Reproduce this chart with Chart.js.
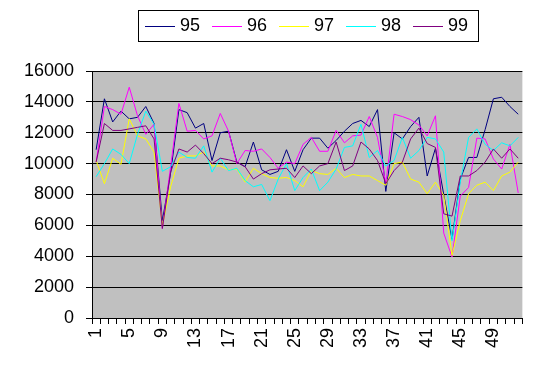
<!DOCTYPE html>
<html>
<head>
<meta charset="utf-8">
<script src="https://cdn.jsdelivr.net/npm/chart.js@4"></script>
<style>
  body { margin: 0; background: #fff; }
  #wrap { width: 544px; height: 376px; }
</style>
</head>
<body>
<div id="wrap"><canvas id="chart" width="544" height="376"></canvas></div>
<script>
// weeks 1..52
const weeks = [1, 2, 3, 4, 5, 6, 7, 8, 9, 10, 11, 12, 13, 14, 15, 16, 17, 18, 19, 20,
    21, 22, 23, 24, 25, 26, 27, 28, 29, 30, 31, 32, 33, 34, 35, 36, 37, 38, 39, 40,
    41, 42, 43, 44, 45, 46, 47, 48, 49, 50, 51, 52];

const seriesNames = ['95', '96', '97', '98', '99'];
const seriesColors = ['#000080', '#ff00ff', '#ffff00', '#00ffff', '#800080'];

const y95 = [10900, 14200, 12700, 13400, 12900, 13000, 13700, 12600, 6300, 9400,
    13500, 13300, 12300, 12600, 10200, 12000, 12100, 10100, 9800, 11400,
    9600, 9300, 9500, 10900, 9500, 10900, 11650, 11650, 11000, 11500,
    12100, 12600, 12800, 12400, 13500, 8200, 12000, 11600, 12400, 13000,
    9200, 11000, 8000, 5100, 9000, 10400, 10400, 12200, 14200, 14300,
    13700, 13200];
const y96 = [10100, 13700, 13500, 13200, 14950, 13100, 11900, 12550, 5800, 9800,
    13900, 12100, 12150, 11600, 11800, 13250, 12100, 10000, 10850, 10800,
    10950, 10400, 9700, 10100, 10000, 11250, 11700, 10800, 10800, 12150,
    11350, 11800, 11850, 13050, 11700, 8700, 13200, 13050, 12850, 12500,
    11800, 13100, 5500, 3950, 7900, 8450, 11650, 11600, 10300, 9650,
    11250, 8100];
const y97 = [10200, 8700, 10350, 9950, 12900, 11800, 11600, 10750, 6000, 8500,
    10350, 10500, 10500, 10750, 9850, 9850, 9600, 9650, 8800, 9700,
    9350, 9100, 9050, 9100, 8900, 8500, 9550, 9350, 9300, 9700,
    9100, 9300, 9200, 9200, 8900, 8600, 10000, 10100, 9000, 8800,
    8050, 8800, 7950, 4050, 6300, 8050, 8600, 8800, 8250, 9200,
    9450, 10100];
const y98 = [9150, 10000, 10950, 10600, 10000, 11900, 13400, 12550, 9500, 9800,
    10750, 10400, 10350, 11150, 9450, 10350, 9550, 9700, 8900, 8500,
    8650, 7600, 9000, 10000, 8250, 9100, 9650, 8250, 8800, 9650,
    11050, 11150, 12550, 10400, 10850, 9850, 10200, 11700, 10350, 10850,
    11700, 11600, 10750, 5000, 8800, 11700, 12250, 11250, 10850, 11350,
    11150, 11700];
const y99 = [10100, 12600, 12150, 12150, 12250, 12350, 12450, 11600, 5800, 9450,
    10950, 10750, 11200, 10650, 10000, 10350, 10250, 10100, 9800, 9000,
    9350, 9600, 9650, 9700, 9100, 9850, 9350, 9850, 10000, 11400,
    9550, 9850, 11400, 10950, 10200, 8700, 9550, 10100, 11600, 12300,
    11300, 11050, 6750, 6600, 9200, 9200, 9550, 10100, 10950, 10350,
    10950, 10350];

const yTicks = [0, 2000, 4000, 6000, 8000, 10000, 12000, 14000, 16000];

const FONT = { family: '"Liberation Sans", Arial, sans-serif', size: 18 };

// gray plot area like old excel
const plotBg = {
    id: 'plotBg',
    beforeDraw(chart) {
        const a = chart.chartArea;
        const ctx = chart.ctx;
        ctx.save();
        ctx.fillStyle = '#c0c0c0';
        ctx.fillRect(a.left, a.top, a.right - a.left, a.bottom - a.top);
        ctx.restore();
    }
};

// boxed legend with line samples
const boxLegend = {
    id: 'boxLegend',
    afterDraw(chart) {
        const ctx = chart.ctx;
        ctx.save();
        ctx.strokeStyle = '#000';
        ctx.lineWidth = 1;
        ctx.strokeRect(138.5, 10.5, 340, 31);
        ctx.font = FONT.size + 'px ' + FONT.family;
        ctx.textBaseline = 'middle';
        ctx.fillStyle = '#000';
        chart.data.datasets.forEach((ds, i) => {
            const x0 = 145 + i * 67;
            ctx.strokeStyle = ds.borderColor;
            ctx.beginPath();
            ctx.moveTo(x0, 26.5);
            ctx.lineTo(x0 + 30, 26.5);
            ctx.stroke();
            ctx.fillText(ds.label, x0 + 35, 26);
        });
        ctx.restore();
    }
};

const allSeries = [y95, y96, y97, y98, y99];

new Chart(document.getElementById('chart'), {
    type: 'line',
    data: {
        labels: weeks,
        datasets: allSeries.map((vals, i) => ({
            label: seriesNames[i],
            data: vals,
            borderColor: seriesColors[i],
            borderWidth: 1,
            pointRadius: 0,
            tension: 0,
            fill: false,
            order: allSeries.length - i
        }))
    },
    options: {
        responsive: false,
        animation: false,
        layout: { padding: { top: 71, right: 18, bottom: 0, left: 0 } },
        plugins: {
            legend: { display: false },
            tooltip: { enabled: false }
        },
        scales: {
            x: {
                offset: true,
                grid: { offset: true, drawOnChartArea: false, color: '#000', tickLength: 6 },
                border: { color: '#000' },
                ticks: {
                    autoSkip: false,
                    minRotation: 90,
                    maxRotation: 90,
                    padding: 4,
                    color: '#000',
                    font: FONT,
                    callback: (v, i) => (i % 4 === 0 ? String(weeks[i]) : '')
                },
                afterFit: s => { s.height = 58; }
            },
            y: {
                min: 0,
                max: 16000,
                afterBuildTicks: s => { s.ticks = yTicks.map(v => ({ value: v })); },
                grid: { color: '#000', tickLength: 6 },
                border: { color: '#000' },
                ticks: { padding: 12, color: '#000', font: FONT, callback: v => String(v) },
                afterFit: s => { s.width = 92; }
            }
        }
    },
    plugins: [plotBg, boxLegend]
});
</script>
</body>
</html>
